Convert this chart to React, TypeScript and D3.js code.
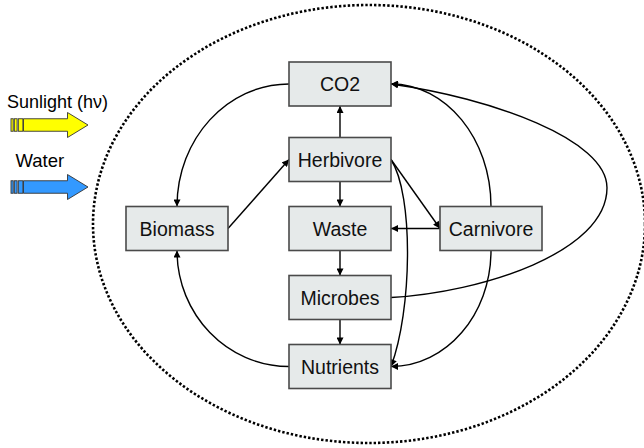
import React from "react";
import * as d3 from "d3";

const nodeNames = ["CO2", "Herbivore", "Waste", "Microbes", "Nutrients", "Biomass", "Carnivore"];
// [source, target, shape]
const edgeList: [string, string, string][] = [
  ["Herbivore", "CO2", "straight"],
  ["Herbivore", "Waste", "straight"],
  ["Waste", "Microbes", "straight"],
  ["Microbes", "Nutrients", "straight"],
  ["Biomass", "Herbivore", "straight"],
  ["Herbivore", "Carnivore", "straight"],
  ["Carnivore", "Waste", "straight"],
  ["CO2", "Biomass", "arc"],
  ["Nutrients", "Biomass", "arc"],
  ["Carnivore", "CO2", "arc"],
  ["Carnivore", "Nutrients", "arc"],
  ["Herbivore", "Nutrients", "bulge"],
  ["Microbes", "CO2", "loop"],
];
const inputLabels = ["Sunlight (h\u03bd)", "Water"];

// layout
const W = 644, H = 448;
const colX: Record<string, number> = { left: 177, mid: 340, right: 491 };
const rowY = [84, 159.5, 228.5, 297.5, 366.5];
const layout: Record<string, [string, number]> = {
  CO2: ["mid", 0], Herbivore: ["mid", 1], Waste: ["mid", 2], Microbes: ["mid", 3], Nutrients: ["mid", 4],
  Biomass: ["left", 2], Carnivore: ["right", 2],
};
const BW = 102, BH = 44;

function pos(n: string) {
  const [c, r] = layout[n];
  return { x: colX[c], y: rowY[r] };
}
function anchor(n: string, side: string) {
  const p = pos(n);
  if (side === "top") return [p.x, p.y - BH / 2];
  if (side === "bottom") return [p.x, p.y + BH / 2];
  if (side === "left") return [p.x - BW / 2, p.y];
  return [p.x + BW / 2, p.y];
}

const K = 0.552;
function quarter(a: number[], b: number[], horizFirst: boolean) {
  const p = d3.path();
  p.moveTo(a[0], a[1]);
  if (horizFirst) {
    p.bezierCurveTo(a[0] + K * (b[0] - a[0]), a[1], b[0], b[1] + K * (a[1] - b[1]), b[0], b[1]);
  } else {
    p.bezierCurveTo(a[0], a[1] + K * (b[1] - a[1]), b[0] + K * (a[0] - b[0]), b[1], b[0], b[1]);
  }
  return p.toString();
}

function edgePath(s: string, t: string, shape: string): string {
  const ps = pos(s), pt = pos(t);
  if (shape === "straight") {
    let a: number[], b: number[];
    if (ps.x === pt.x) {
      a = anchor(s, ps.y < pt.y ? "bottom" : "top");
      b = anchor(t, ps.y < pt.y ? "top" : "bottom");
    } else {
      a = anchor(s, ps.x < pt.x ? "right" : "left");
      b = anchor(t, ps.x < pt.x ? "left" : "right");
    }
    return d3.line()([a as [number, number], b as [number, number]]) || "";
  }
  if (shape === "arc") {
    if (s === "CO2") return quarter(anchor(s, "left"), anchor(t, "top"), true);
    if (s === "Nutrients") return quarter(anchor(s, "left"), anchor(t, "bottom"), true);
    if (t === "CO2") return quarter(anchor(s, "top"), anchor(t, "right"), false);
    return quarter(anchor(s, "bottom"), anchor(t, "right"), false);
  }
  if (shape === "bulge") {
    const a = anchor(s, "right"), b = anchor(t, "right");
    const p = d3.path();
    p.moveTo(a[0], a[1]);
    p.bezierCurveTo(a[0] + 23, a[1] + 36, b[0] + 21, b[1] - 56, b[0], b[1]);
    return p.toString();
  }
  // loop: Microbes -> CO2 around the right side
  const a = anchor(s, "right"), b = anchor(t, "right");
  const ex = a[0] + 216, ey = (a[1] + b[1]) / 2 - 3;
  const p = d3.path();
  p.moveTo(a[0], a[1]);
  p.bezierCurveTo(a[0] + 90, a[1] - 5, ex, a[1] - 45, ex, ey);
  p.bezierCurveTo(ex, b[1] + 55, b[0] + 100, b[1] + 14, b[0], b[1]);
  return p.toString();
}

function InputArrow({ y, fill }: { y: number; fill: string }) {
  const bodyH = 12.5, headH = 25;
  const p = d3.path();
  p.moveTo(23.5, y - bodyH / 2);
  p.lineTo(67.5, y - bodyH / 2);
  p.lineTo(67.5, y - headH / 2);
  p.lineTo(88, y);
  p.lineTo(67.5, y + headH / 2);
  p.lineTo(67.5, y + bodyH / 2);
  p.lineTo(23.5, y + bodyH / 2);
  p.closePath();
  const stripes = [[11, 2.2], [14.3, 2.8], [18.3, 4.6]];
  return (
    <g stroke="#333" strokeWidth={0.9}>
      {stripes.map(([sx, sw], i) => (
        <rect key={i} x={sx} y={y - bodyH / 2} width={sw} height={bodyH} fill={fill} />
      ))}
      <path d={p.toString()} fill={fill} />
    </g>
  );
}

export default function App() {
  return (
    <svg width={W} height={H} style={{ position: "absolute", left: 0, top: 0, background: "#fff" }}
      fontFamily="'Liberation Sans', Arial, sans-serif">
      <defs>
        <marker id="ah" viewBox="0 0 10 10" refX={10} refY={5} markerWidth={8} markerHeight={7}
          markerUnits="userSpaceOnUse" orient="auto">
          <path d="M0,0 L10,5 L0,10 z" fill="#000" />
        </marker>
      </defs>
      <ellipse cx={369} cy={224} rx={276} ry={219} fill="none" stroke="#000" strokeWidth={2.6}
        strokeDasharray="2.4 2" />
      <text x={7} y={108} fontSize={18} fill="#000">{inputLabels[0]}</text>
      <InputArrow y={125} fill="#ffff00" />
      <text x={15.5} y={166.5} fontSize={18.5} fill="#000">{inputLabels[1]}</text>
      <InputArrow y={187} fill="#3399ff" />
      {edgeList.map(([s, t, shape], i) => (
        <path key={i} d={edgePath(s, t, shape)} fill="none" stroke="#000" strokeWidth={1.4}
          markerEnd="url(#ah)" />
      ))}
      {nodeNames.map((n) => {
        const p = pos(n);
        return (
          <g key={n}>
            <rect x={p.x - BW / 2} y={p.y - BH / 2} width={BW} height={BH} fill="#e6eaea"
              stroke="#4a4a4a" strokeWidth={1.6} />
            <text x={p.x} y={p.y + 7} textAnchor="middle" fontSize={19.5} fill="#111">{n}</text>
          </g>
        );
      })}
    </svg>
  );
}
